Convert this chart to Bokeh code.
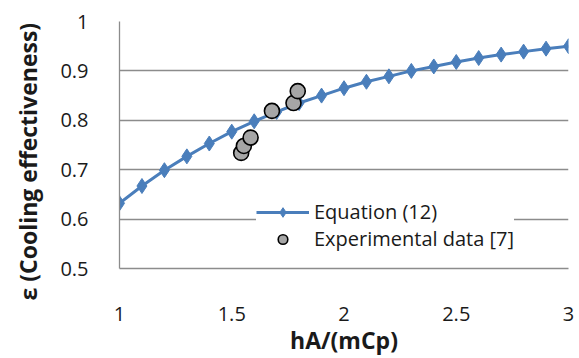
from bokeh.plotting import figure
from bokeh.models import Legend, LegendItem, FixedTicker, ColumnDataSource, Title
from bokeh.embed import file_html
from bokeh.resources import INLINE

# Equation (12) curve
eq_x = [1.0, 1.1, 1.2, 1.3, 1.4, 1.5, 1.6, 1.7, 1.8, 1.9, 2.0,
        2.1, 2.2, 2.3, 2.4, 2.5, 2.6, 2.7, 2.8, 2.9, 3.0]
eq_y = [0.632, 0.667, 0.699, 0.727, 0.753, 0.777, 0.798, 0.817, 0.835, 0.850, 0.865,
        0.878, 0.889, 0.900, 0.909, 0.918, 0.926, 0.933, 0.939, 0.945, 0.950]

# Experimental data [7]
exp_x = [1.542, 1.554, 1.584, 1.679, 1.775, 1.794]
exp_y = [0.734, 0.748, 0.765, 0.819, 0.835, 0.859]

x_ticks = [1, 1.5, 2, 2.5, 3]
y_ticks = [0.5, 0.6, 0.7, 0.8, 0.9, 1.0]

FONT = "Open Sans"
BLUE = "#4a7ebb"
TXT = "#1a1a1a"

p = figure(width=579, height=358, output_backend="svg", toolbar_location=None,
           x_range=(1, 3), y_range=(0.5, 1.0),
           min_border_left=118, min_border_right=11, min_border_top=21, min_border_bottom=86)
p.outline_line_color = None
p.background_fill_color = "white"

p.xgrid.grid_line_color = None
p.ygrid.grid_line_color = "#8c8c8c"
p.ygrid.grid_line_width = 1.3

for ax in (p.xaxis[0], p.yaxis[0]):
    ax.axis_line_color = "#8c8c8c"
    ax.axis_line_width = 1.3
    ax.major_tick_line_color = None
    ax.minor_tick_line_color = None
    ax.major_label_text_font = FONT
    ax.major_label_text_font_size = "20px"
    ax.major_label_text_color = TXT
    ax.axis_label_text_font = FONT
    ax.axis_label_text_font_size = "23px"
    ax.axis_label_text_font_style = "bold"
    ax.axis_label_text_color = TXT

p.xaxis.ticker = FixedTicker(ticks=x_ticks)
p.yaxis.ticker = FixedTicker(ticks=y_ticks)
p.xaxis.major_label_overrides = {1: "1", 1.5: "1.5", 2: "2", 2.5: "2.5", 3: "3"}
p.yaxis.major_label_overrides = {1.0: "1"}
p.xaxis.major_label_standoff = 32
p.yaxis.major_label_standoff = 25
p.xaxis.axis_label = "hA/(mCp)"
p.xaxis.axis_label_standoff = 0

# y-axis title as a left-side title, starting a little below the frame bottom as in the original
ytitle = Title(text="ε (Cooling effectiveness)", align="left", offset=-32,
               vertical_align="top", standoff=23,
               text_font=FONT, text_font_size="23px", text_font_style="bold",
               text_color=TXT)
p.add_layout(ytitle, "left")

src_eq = ColumnDataSource(dict(x=eq_x, y=eq_y))
src_exp = ColumnDataSource(dict(x=exp_x, y=exp_y))

l1 = p.line("x", "y", source=src_eq, line_color=BLUE, line_width=3)
m1 = p.scatter("x", "y", source=src_eq, marker="diamond", size=15,
               fill_color=BLUE, line_color=BLUE)
m2 = p.scatter("x", "y", source=src_exp, marker="circle", size=15,
               fill_color="#a6a6a6", line_color="black", line_width=1.6)

legend = Legend(items=[LegendItem(label="Equation (12)", renderers=[l1, m1]),
                       LegendItem(label="Experimental data [7]", renderers=[m2])],
                location=(137, 16))
legend.label_text_font = FONT
legend.label_text_font_size = "20px"
legend.label_text_color = TXT
legend.border_line_color = None
legend.background_fill_color = "white"
legend.background_fill_alpha = 1.0
legend.glyph_width = 53
legend.glyph_height = 24
legend.label_height = 24
legend.spacing = 0
legend.padding = 14
legend.margin = 0
legend.label_standoff = 5
p.add_layout(legend, "center")

open("out.html", "w").write(file_html(p, INLINE))
